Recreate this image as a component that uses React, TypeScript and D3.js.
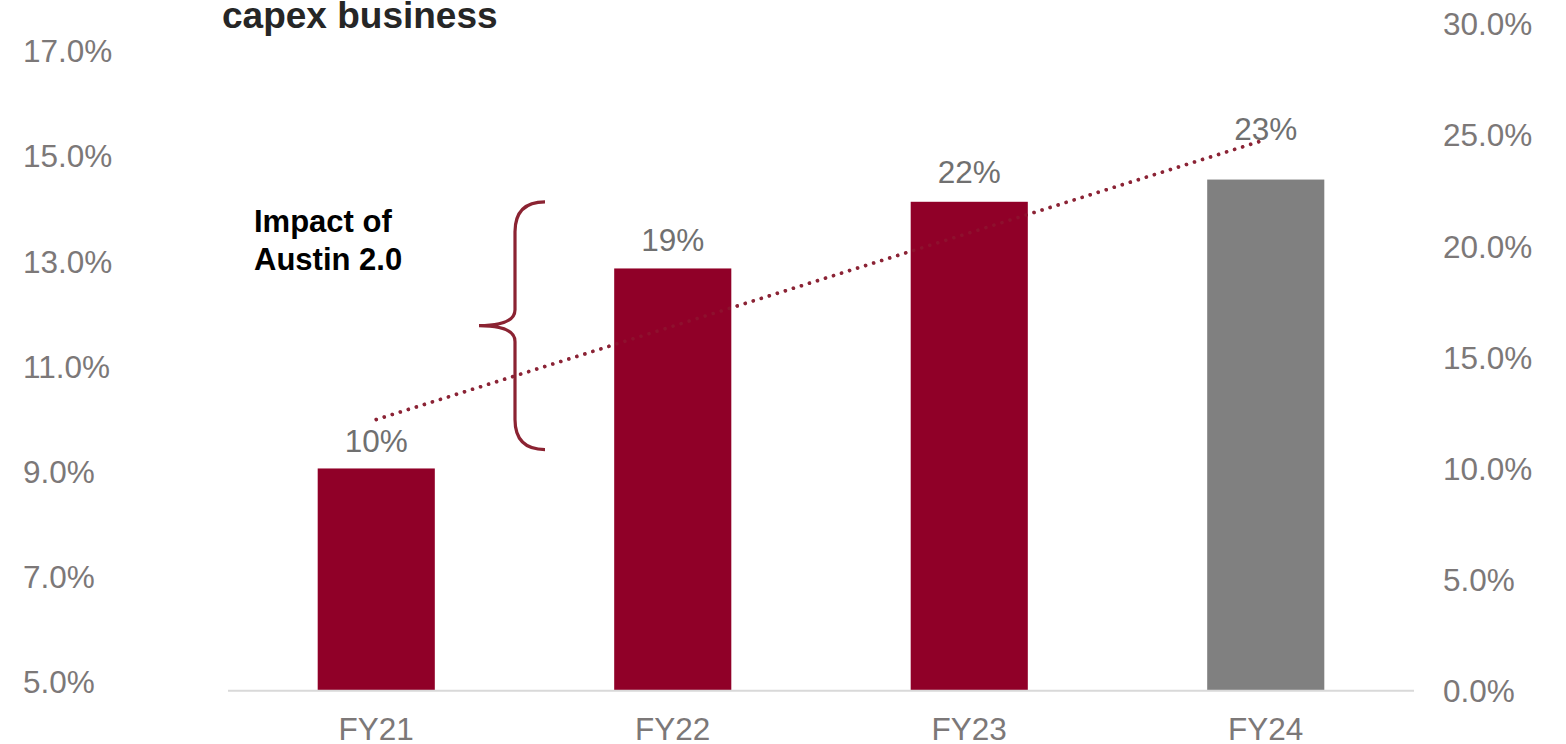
import React from "react";
import * as d3 from "d3";

const categories = ["FY21", "FY22", "FY23", "FY24"];
const barValues = [10, 19, 22, 23];
const barLabels = ["10%", "19%", "22%", "23%"];
const trendValues = [12.2, 24.8];
const leftTicks = [5, 7, 9, 11, 13, 15, 17];
const rightTicks = [0, 5, 10, 15, 20, 25, 30];
const braceRange = [10.85, 22];
const title = "capex business";
const annotation = ["Impact of", "Austin 2.0"];

const W = 1566;
const H = 744;
const RED = "#900028";
const GRAY = "#808080";
const DOT = "#8B2335";
const TICK = "#7c7878";
const LABEL = "#707070";
const FONT = "'Liberation Sans', Arial, sans-serif";
const labelGap = [16, 17, 19, 40];

export default function App() {
  const x = d3
    .scaleBand<string>()
    .domain(categories)
    .range([228, 1414])
    .paddingInner(0.605)
    .paddingOuter(0.3025);
  const yR = d3.scaleLinear().domain([0, 30]).range([690.7, 24]);
  const yL = d3.scaleLinear().domain([5, 17]).range([681.5, 51]);
  const cx = (c: string) => (x(c) as number) + x.bandwidth() / 2;

  const trendPts: [number, number][] = [
    [cx(categories[0]), yR(trendValues[0])],
    [cx(categories[categories.length - 1]), yR(trendValues[1])],
  ];
  const trendPath = d3.line()(trendPts) as string;

  const bTop = yR(braceRange[1]);
  const bBot = yR(braceRange[0]);
  const bMid = (bTop + bBot) / 2;
  const bx = 515;
  const bEnd = 545;
  const bTip = 479;
  const bracePath = [
    `M${bEnd},${bTop}`,
    `Q${bx},${bTop} ${bx},${bTop + 30}`,
    `L${bx},${bMid - 16}`,
    `Q${bx},${bMid} ${bTip},${bMid}`,
    `Q${bx},${bMid} ${bx},${bMid + 16}`,
    `L${bx},${bBot - 30}`,
    `Q${bx},${bBot} ${bEnd},${bBot}`,
  ].join(" ");

  return (
    <div style={{ position: "fixed", left: 0, top: 0, width: W, height: H, background: "#fff" }}>
      <svg width={W} height={H} style={{ display: "block" }} fontFamily={FONT}>
        <text x={222} y={28} fontSize={37} fontWeight="bold" fill="#262626">
          {title}
        </text>

        {leftTicks.map((t) => (
          <text key={"l" + t} x={23} y={yL(t)} dy="0.36em" fontSize={31.5} fill={TICK}>
            {t.toFixed(1) + "%"}
          </text>
        ))}
        {rightTicks.map((t) => (
          <text key={"r" + t} x={1443} y={yR(t)} dy="0.36em" fontSize={31.5} fill={TICK}>
            {t.toFixed(1) + "%"}
          </text>
        ))}

        <path
          d={trendPath}
          fill="none"
          stroke={DOT}
          strokeWidth={3.6}
          strokeLinecap="round"
          strokeDasharray="0.01 8.4"
        />

        {categories.map((c, i) => (
          <rect
            key={c}
            x={x(c)}
            y={yR(barValues[i])}
            width={x.bandwidth()}
            height={yR(0) - yR(barValues[i])}
            fill={i === categories.length - 1 ? GRAY : RED}
          />
        ))}

        <path
          d={trendPath}
          fill="none"
          stroke={DOT}
          strokeOpacity={0.45}
          strokeWidth={3.6}
          strokeLinecap="round"
          strokeDasharray="0.01 8.4"
        />

        <line x1={228} x2={1414} y1={yR(0)} y2={yR(0)} stroke="#d9d9d9" strokeWidth={2} />

        {categories.map((c, i) => (
          <text
            key={"v" + c}
            x={cx(c)}
            y={yR(barValues[i]) - labelGap[i]}
            textAnchor="middle"
            fontSize={31.5}
            fill={LABEL}
          >
            {barLabels[i]}
          </text>
        ))}

        {categories.map((c) => (
          <text key={"c" + c} x={cx(c)} y={740} textAnchor="middle" fontSize={31.5} fill={TICK}>
            {c}
          </text>
        ))}

        <path d={bracePath} fill="none" stroke="#8B2332" strokeWidth={3.2} />

        {annotation.map((s, i) => (
          <text key={s} x={254} y={232 + i * 38} fontSize={31} fontWeight="bold" fill="#000">
            {s}
          </text>
        ))}
      </svg>
    </div>
  );
}
